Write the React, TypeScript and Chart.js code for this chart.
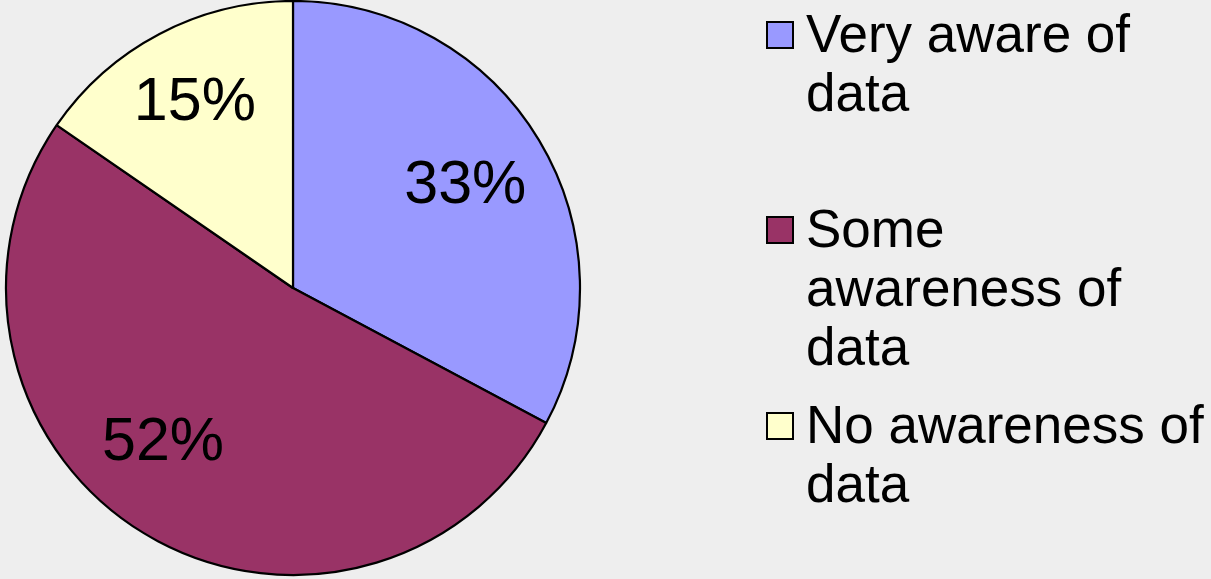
import React, { useEffect, useRef } from "react";
import { Chart, registerables } from "chart.js";

Chart.register(...registerables);

const categories = ["Very aware of data", "Some awareness of data", "No awareness of data"];
const legendLines = [["Very aware of", "data"], ["Some", "awareness of", "data"], ["No awareness of", "data"]];
const values = [32.8, 51.8, 15.4];
const colors = ["#9999FF", "#993366", "#FFFFCC"];

// label placement style (Excel "best fit" look)
const labelRadiusFrac = [0.7, 0.7, 0.735];
const labelAngleShiftDeg = [0, 9, 0];
const legendTops = [4, 199, 395];

const FONT = '"Liberation Sans", Arial, Helvetica, sans-serif';

const labelPlugin = {
  id: "pctLabels",
  afterDatasetsDraw(chart: any) {
    const ctx = chart.ctx;
    const meta = chart.getDatasetMeta(0);
    ctx.save();
    ctx.font = `61px ${FONT}`;
    ctx.fillStyle = "#000000";
    ctx.textAlign = "center";
    ctx.textBaseline = "middle";
    meta.data.forEach((arc: any, i: number) => {
      const p = arc.getProps(["x", "y", "startAngle", "endAngle", "outerRadius"], true);
      const mid = (p.startAngle + p.endAngle) / 2 + (labelAngleShiftDeg[i] * Math.PI) / 180;
      const r = p.outerRadius * labelRadiusFrac[i];
      const v = chart.data.datasets[0].data[i];
      ctx.fillText(Math.round(v) + "%", p.x + Math.cos(mid) * r, p.y + Math.sin(mid) * r + 2);
    });
    ctx.restore();
  },
};

export default function App() {
  const ref = useRef<HTMLCanvasElement>(null);
  useEffect(() => {
    document.body.style.margin = "0";
    document.body.style.background = "#EEEEEE";
    const chart = new Chart(ref.current!, {
      type: "pie",
      data: {
        labels: categories,
        datasets: [
          {
            data: values,
            backgroundColor: colors,
            borderColor: "#000000",
            borderWidth: 2.2,
            radius: 287,
          },
        ],
      },
      options: {
        responsive: false,
        animation: false,
        layout: { padding: { left: 5, right: 630, top: 0, bottom: 3 } },
        plugins: { legend: { display: false }, tooltip: { enabled: false } },
      },
      plugins: [labelPlugin],
    });
    return () => chart.destroy();
  }, []);
  return (
    <div style={{ position: "relative", width: 1211, height: 579, background: "#EEEEEE", overflow: "hidden" }}>
      <canvas ref={ref} width={1211} height={579} style={{ position: "absolute", left: 0, top: 0 }} />
      {categories.map((c, i) => (
        <div key={c} style={{ position: "absolute", left: 0, top: 0 }}>
          <div
            style={{
              position: "absolute",
              left: 766,
              top: legendTops[i] + 17,
              width: 24,
              height: 24,
              background: colors[i],
              border: "2px solid #000",
            }}
          />
          <div
            style={{
              position: "absolute",
              left: 806,
              top: legendTops[i],
              font: `53px ${FONT}`,
              lineHeight: "59px",
              color: "#000",
              whiteSpace: "nowrap",
            }}
          >
            {legendLines[i].map((l) => (
              <div key={l}>{l}</div>
            ))}
          </div>
        </div>
      ))}
    </div>
  );
}
